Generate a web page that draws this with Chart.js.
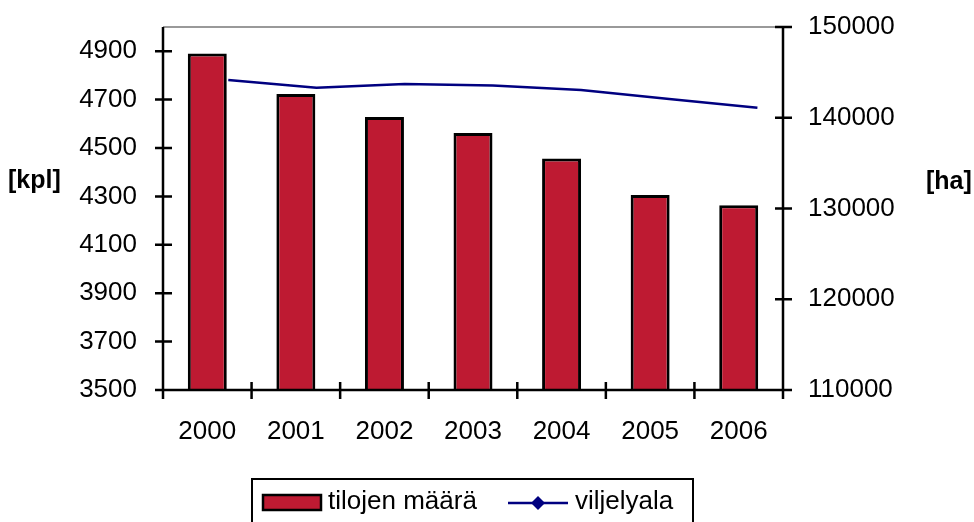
<!DOCTYPE html>
<html lang="fi">
<head>
    <meta charset="UTF-8">
    <title>Tilat ja viljelyala</title>
    <script src="https://cdn.jsdelivr.net/npm/chart.js"></script>
    <style>
        html, body { margin: 0; padding: 0; background: #fff; overflow: hidden; }
        #wrap { width: 974px; height: 522px; }
    </style>
</head>
<body>
    <div id="wrap"><canvas id="chart" width="974" height="522"></canvas></div>

    <script>
        const years = ['2000', '2001', '2002', '2003', '2004', '2005', '2006'];
        const tilojenMaara = [4890, 4723, 4628, 4562, 4457, 4306, 4263];
        const viljelyala = [144160, 143310, 143720, 143550, 143060, 142070, 141110];
        const leftTicks = [3500, 3700, 3900, 4100, 4300, 4500, 4700, 4900];
        const rightTicks = [110000, 120000, 130000, 140000, 150000];

        const FONT = '"Liberation Sans", Arial, sans-serif';
        const barColor = '#BE1A32';
        const lineColor = '#000080';

        // frame, crossing tick marks, axis titles
        const framePlugin = {
            id: 'frame',
            afterDraw(chart) {
                const ctx = chart.ctx;
                const a = chart.chartArea;
                const yL = chart.scales.y;
                const yR = chart.scales.y2;
                ctx.save();
                ctx.lineCap = 'butt';
                ctx.strokeStyle = '#999';
                ctx.lineWidth = 2;
                ctx.beginPath();
                ctx.moveTo(a.left, a.top);
                ctx.lineTo(a.right, a.top);
                ctx.stroke();

                ctx.strokeStyle = '#000';
                ctx.lineWidth = 2.5;
                ctx.beginPath();
                ctx.moveTo(a.left, a.top);
                ctx.lineTo(a.left, a.bottom);
                ctx.moveTo(a.right, a.top);
                ctx.lineTo(a.right, a.bottom + 8);
                ctx.moveTo(a.left, a.bottom);
                ctx.lineTo(a.right + 8, a.bottom);
                yL.ticks.forEach(t => {
                    const y = yL.getPixelForValue(t.value);
                    ctx.moveTo(a.left - 8, y);
                    ctx.lineTo(a.left + 9, y);
                });
                yR.ticks.forEach(t => {
                    const y = yR.getPixelForValue(t.value);
                    ctx.moveTo(a.right - 8, y);
                    ctx.lineTo(a.right + 9, y);
                });
                const step = (a.right - a.left) / years.length;
                for (let i = 0; i <= years.length; i++) {
                    const x = a.left + i * step;
                    ctx.moveTo(x, a.bottom - 8);
                    ctx.lineTo(x, a.bottom + 9);
                }
                ctx.stroke();

                ctx.fillStyle = '#000';
                ctx.font = 'bold 25px ' + FONT;
                ctx.textBaseline = 'middle';
                ctx.textAlign = 'left';
                ctx.fillText('[kpl]', 8, 181);
                ctx.fillText('[ha]', 926, 182);
                ctx.restore();
            }
        };

        // boxed legend under the chart
        const legendPlugin = {
            id: 'boxLegend',
            afterDraw(chart) {
                const ctx = chart.ctx;
                const ds = chart.data.datasets;
                ctx.save();
                ctx.strokeStyle = '#000';
                ctx.lineWidth = 2;
                ctx.strokeRect(252, 479, 441, 60);

                ctx.fillStyle = ds[0].backgroundColor;
                ctx.fillRect(263, 495, 58, 15);
                ctx.lineWidth = 2.5;
                ctx.strokeRect(263, 495, 58, 15);

                ctx.lineWidth = 2.5;
                ctx.strokeStyle = ds[1].borderColor;
                ctx.beginPath();
                ctx.moveTo(508, 503);
                ctx.lineTo(568, 503);
                ctx.stroke();
                ctx.fillStyle = ds[1].borderColor;
                ctx.beginPath();
                ctx.moveTo(538, 496);
                ctx.lineTo(545, 503);
                ctx.lineTo(538, 510);
                ctx.lineTo(531, 503);
                ctx.closePath();
                ctx.fill();

                ctx.fillStyle = '#000';
                ctx.font = '26px ' + FONT;
                ctx.textBaseline = 'middle';
                ctx.textAlign = 'left';
                ctx.fillText(ds[0].label, 328, 502);
                ctx.fillText(ds[1].label, 575, 502);
                ctx.restore();
            }
        };

        const ctx = document.getElementById('chart').getContext('2d');
        new Chart(ctx, {
            data: {
                labels: years,
                datasets: [{
                    type: 'bar',
                    label: 'tilojen määrä',
                    data: tilojenMaara,
                    backgroundColor: barColor,
                    borderColor: '#000',
                    borderWidth: 3,
                    borderSkipped: false,
                    grouped: false,
                    barPercentage: 0.44,
                    categoryPercentage: 1,
                    xAxisID: 'x',
                    yAxisID: 'y',
                    order: 1
                }, {
                    type: 'line',
                    label: 'viljelyala',
                    data: viljelyala.map((v, i) => ({ x: i, y: v })),
                    borderColor: lineColor,
                    backgroundColor: lineColor,
                    borderWidth: 2.5,
                    pointRadius: 0,
                    tension: 0,
                    xAxisID: 'x2',
                    yAxisID: 'y2',
                    order: 0
                }]
            },
            options: {
                responsive: false,
                animation: false,
                layout: { padding: { top: 27, bottom: 72, left: 0, right: 0 } },
                plugins: { legend: { display: false }, tooltip: { enabled: false } },
                scales: {
                    x: {
                        type: 'category',
                        offset: true,
                        grid: { display: false, drawTicks: false },
                        border: { display: false },
                        ticks: {
                            color: '#000', padding: 26, maxRotation: 0,
                            font: { family: FONT, size: 26 }
                        },
                        afterFit: s => { s.height = 60; }
                    },
                    x2: {
                        type: 'linear',
                        display: false,
                        min: -0.74,
                        max: 6.29
                    },
                    y: {
                        position: 'left',
                        min: 3500,
                        max: 5000,
                        grid: { display: false, drawTicks: false },
                        border: { display: false },
                        afterBuildTicks: s => { s.ticks = leftTicks.map(v => ({ value: v })); },
                        ticks: {
                            color: '#000', padding: 26,
                            font: { family: FONT, size: 26 },
                            callback: v => String(v)
                        },
                        afterFit: s => { s.width = 163; s.paddingTop = 0; s.paddingBottom = 0; }
                    },
                    y2: {
                        position: 'right',
                        min: 110000,
                        max: 150000,
                        grid: { display: false, drawTicks: false },
                        border: { display: false },
                        afterBuildTicks: s => { s.ticks = rightTicks.map(v => ({ value: v })); },
                        ticks: {
                            color: '#000', padding: 25,
                            font: { family: FONT, size: 26 },
                            callback: v => String(v)
                        },
                        afterFit: s => { s.width = 191; s.paddingTop = 0; s.paddingBottom = 0; }
                    }
                }
            },
            plugins: [framePlugin, legendPlugin]
        });
    </script>
</body>
</html>
